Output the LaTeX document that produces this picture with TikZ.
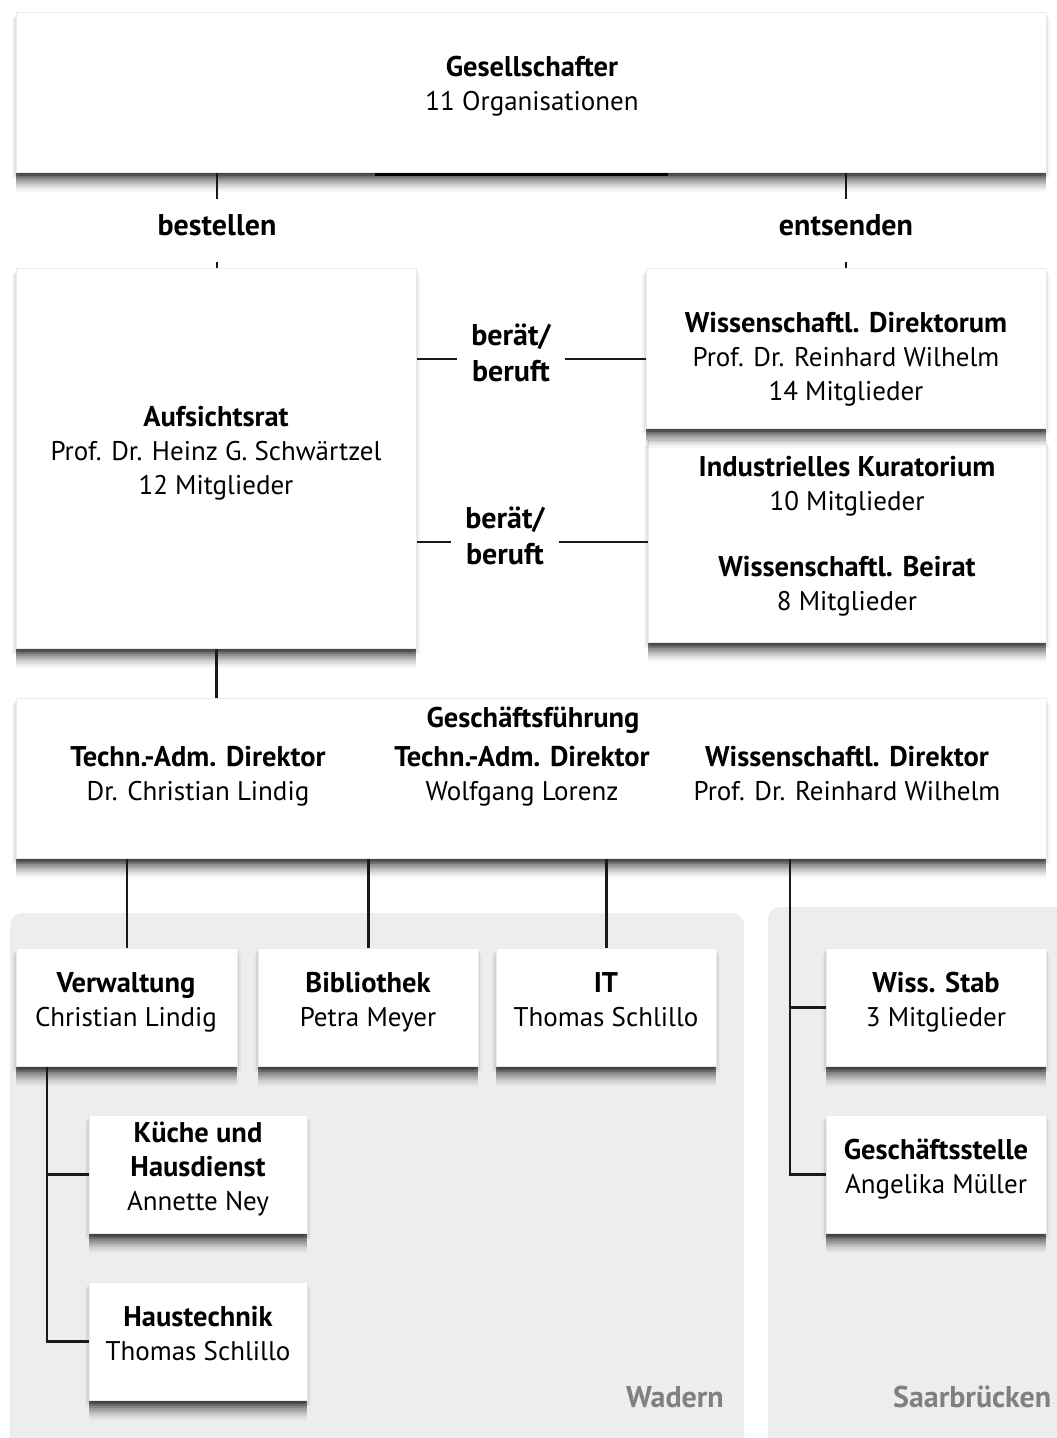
\documentclass[tikz,border=0pt]{standalone}
\usepackage{fontspec}
\setmainfont{PT Sans}
\usetikzlibrary{shadows}
\definecolor{panelgray}{HTML}{EDEDED}
\definecolor{placegray}{HTML}{808080}
\newcommand\hdf{\fontsize{28.5}{34}\selectfont\bfseries}
\begin{document}
\begin{tikzpicture}[x=1pt,y=-1pt,
  sh/.style={
    drop shadow={shadow xshift=0pt,shadow yshift=-2pt,opacity=.16,fill=black},
    drop shadow={shadow xshift=0pt,shadow yshift=-4pt,opacity=.15,fill=black},
    drop shadow={shadow xshift=0pt,shadow yshift=-6pt,opacity=.14,fill=black},
    drop shadow={shadow xshift=0pt,shadow yshift=-8pt,opacity=.13,fill=black},
    drop shadow={shadow xshift=0pt,shadow yshift=-10pt,opacity=.11,fill=black},
    drop shadow={shadow xshift=0pt,shadow yshift=-12pt,opacity=.09,fill=black},
    drop shadow={shadow xshift=0pt,shadow yshift=-14pt,opacity=.07,fill=black},
    drop shadow={shadow xshift=0pt,shadow yshift=-16pt,opacity=.06,fill=black},
    drop shadow={shadow xshift=0pt,shadow yshift=-18pt,opacity=.04,fill=black},
    drop shadow={shadow xshift=0pt,shadow yshift=-20pt,opacity=.03,fill=black},
    drop shadow={shadow xshift=2pt,shadow yshift=-4pt,opacity=.07,fill=black},
    drop shadow={shadow xshift=-2pt,shadow yshift=-4pt,opacity=.07,fill=black},
    drop shadow={shadow xshift=4pt,shadow yshift=-6pt,opacity=.04,fill=black},
    drop shadow={shadow xshift=-4pt,shadow yshift=-6pt,opacity=.04,fill=black}},
  box/.style={sh, fill=white, draw=black!8, line width=0.8pt, inner sep=0pt, anchor=north west},
  txt/.style={font=\fontsize{27}{34}\selectfont, align=center, inner sep=0pt, text depth=7pt},
  lab/.style={font=\fontsize{30}{36}\selectfont\bfseries, align=center, inner xsep=14pt, inner ysep=0pt},
  place/.style={font=\fontsize{30}{36}\selectfont\bfseries, text=placegray, inner sep=0pt},
  conn/.style={line width=2.4pt, black!90}]
\useasboundingbox (0,0) rectangle (1057,1438);
\fill[white] (0,0) rectangle (1057,1438);
% location panels
\fill[panelgray, rounded corners=12pt] (10,913) rectangle (744,1470);
\fill[panelgray, rounded corners=12pt] (768,907) rectangle (1090,1470);
% boxes
\node[box, minimum width=1030pt, minimum height=160pt] (gs) at (16,12) {};
\node[box, minimum width=400pt, minimum height=380pt] (aufs) at (16,268) {};
\node[box, minimum width=398pt, minimum height=202pt] (ik) at (648,440) {};
\node[box, minimum width=400pt, minimum height=160pt] (wd) at (646,268) {};
\node[box, minimum width=1030pt, minimum height=160pt] (gf) at (16,698) {};
\node[box, minimum width=221pt, minimum height=118pt] (verw) at (16,948) {};
\node[box, minimum width=220pt, minimum height=118pt] (bib) at (258,948) {};
\node[box, minimum width=220pt, minimum height=118pt] (it) at (496,948) {};
\node[box, minimum width=220pt, minimum height=118pt] (ws) at (826,948) {};
\node[box, minimum width=218pt, minimum height=118pt] (ku) at (89,1115) {};
\node[box, minimum width=218pt, minimum height=118pt] (ht) at (89,1282) {};
\node[box, minimum width=220pt, minimum height=118pt] (gst) at (826,1115) {};
% texts
\node[txt] (tgs) at (532,87) {{\hdf Gesellschafter}\\11 Organisationen};
\node[txt] (taufs) at (216,454) {{\hdf Aufsichtsrat}\\Prof. Dr. Heinz G. Schwärtzel\\12 Mitglieder};
\node[txt] (twd) at (846,360) {{\hdf Wissenschaftl. Direktorum}\\Prof. Dr. Reinhard Wilhelm\\14 Mitglieder};
\node[txt] (tik) at (847,487) {{\hdf Industrielles Kuratorium}\\10 Mitglieder};
\node[txt] (tbr) at (847,587) {{\hdf Wissenschaftl. Beirat}\\8 Mitglieder};
\node[txt] (tgf) at (533,721) {\hdf Geschäftsführung};
\node[txt] (tgf1) at (198,777) {{\hdf Techn.-Adm. Direktor}\\Dr. Christian Lindig};
\node[txt] (tgf2) at (522,777) {{\hdf Techn.-Adm. Direktor}\\Wolfgang Lorenz};
\node[txt] (tgf3) at (847,777) {{\hdf Wissenschaftl. Direktor}\\Prof. Dr. Reinhard Wilhelm};
\node[txt] (tverw) at (126,1003) {{\hdf Verwaltung}\\Christian Lindig};
\node[txt] (tbib) at (368,1003) {{\hdf Bibliothek}\\Petra Meyer};
\node[txt] (tit) at (606,1003) {{\hdf IT}\\Thomas Schlillo};
\node[txt] (tws) at (936,1003) {{\hdf Wiss. Stab}\\3 Mitglieder};
\node[txt] (tku) at (198,1170) {{\hdf Küche und}\\{\hdf Hausdienst}\\Annette Ney};
\node[txt] (tht) at (198,1337) {{\hdf Haustechnik}\\Thomas Schlillo};
\node[txt] (tgst) at (936,1170) {{\hdf Geschäftsstelle}\\Angelika Müller};
\node[place, anchor=east] (wad) at (724,1397) {Wadern};
\node[place, anchor=west] (saar) at (893,1397) {Saarbrücken};
% labels on connectors
\node[lab] (bes) at (217,225) {bestellen};
\node[lab] (ent) at (846,225) {entsenden};
\node[lab] (b1) at (511,353) {berät/\\beruft};
\node[lab] (b2) at (505,536) {berät/\\beruft};
% connectors
\draw[line width=3pt] (375,174.5) -- (668,174.5);
\draw[conn] (gs.south -| bes) -- ++(0,26);
\draw[conn] (aufs.north -| bes) -- ++(0,-6);
\draw[conn] (gs.south -| ent) -- ++(0,26);
\draw[conn] (wd.north -| ent) -- ++(0,-6);
\coordinate (y1) at (0,359);
\coordinate (y2) at (0,542);
\draw[conn] (aufs.east |- y1) -- (b1.west |- y1);
\draw[conn] (b1.east |- y1) -- (wd.west |- y1);
\draw[conn] (aufs.east |- y2) -- (b2.west |- y2);
\draw[conn] (b2.east |- y2) -- (ik.west |- y2);
\draw[conn] (aufs.south) -- (gf.north -| aufs.south);
\draw[conn] (gf.south -| verw.north) -- (verw.north);
\draw[conn] (gf.south -| bib.north) -- (bib.north);
\draw[conn] (gf.south -| it.north) -- (it.north);
\coordinate (xr) at (790,0);
\coordinate (xl) at (47,0);
\draw[conn] (gf.south -| xr) -- (gst.west -| xr) -- (gst.west);
\draw[conn] (ws.west -| xr) -- (ws.west);
\draw[conn] (verw.south -| xl) -- (ht.west -| xl) -- (ht.west);
\draw[conn] (ku.west -| xl) -- (ku.west);
\end{tikzpicture}
\end{document}
